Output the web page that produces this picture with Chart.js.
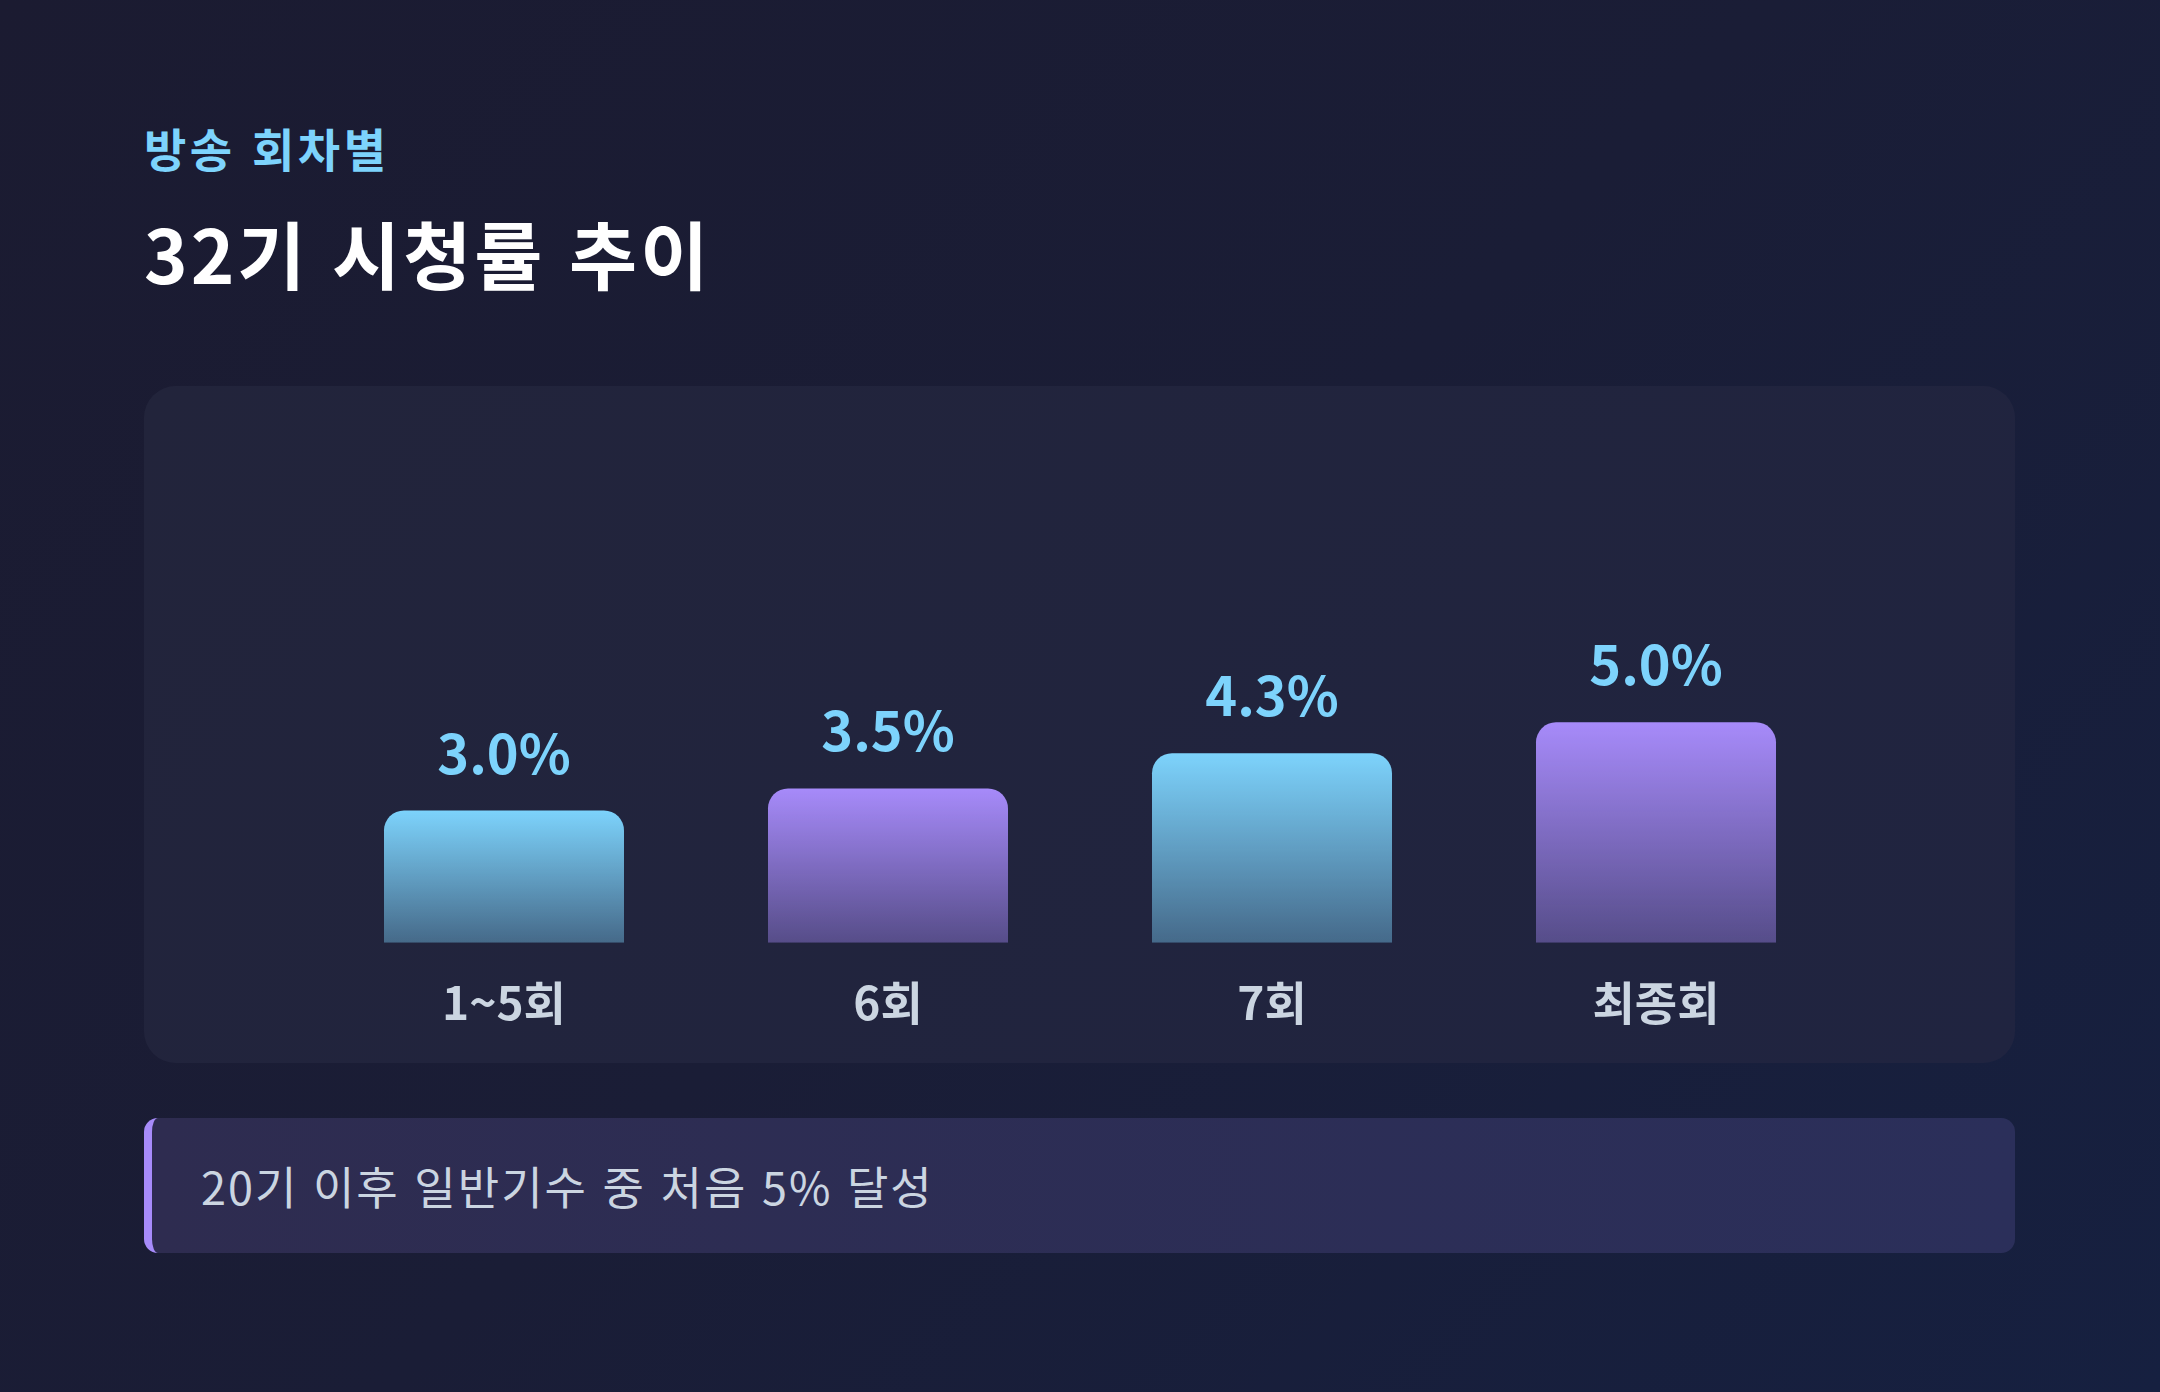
<!DOCTYPE html>
<html lang="ko">
<head>
<meta charset="utf-8">
<script src="https://cdn.jsdelivr.net/npm/chart.js@4.4.1/dist/chart.umd.min.js"></script>
<style>
  html, body {
    margin: 0;
    padding: 0;
  }
  body {
    width: 2160px;
    height: 1392px;
    position: relative;
    overflow: hidden;
    background: linear-gradient(135deg, #1b1b31 0%, #1a1d36 50%, #162040 100%);
    font-family: "Noto Sans CJK KR", "Noto Sans", sans-serif;
  }
  .sub {
    position: absolute;
    left: 144px;
    top: 124px;
    font-size: 46px;
    line-height: 1;
    font-weight: 700;
    letter-spacing: 3.5px;
    color: #7dd3fc;
  }
  h1 {
    position: absolute;
    left: 144px;
    top: 215px;
    margin: 0;
    font-size: 74px;
    line-height: 1;
    font-weight: 700;
    letter-spacing: 3px;
    color: #ffffff;
  }
  .panel {
    position: absolute;
    left: 144px;
    top: 386px;
    width: 1871px;
    height: 677px;
    border-radius: 32px;
    background: linear-gradient(135deg, #22243b 0%, #202440 100%);
  }
  .note {
    position: absolute;
    left: 144px;
    top: 1118px;
    width: 1863px;
    height: 135px;
    border-left: 8px solid #a78bfa;
    border-radius: 14px;
    background: linear-gradient(90deg, #2e2c50 0%, #2b2f5a 100%);
    display: flex;
    align-items: center;
    box-sizing: content-box;
  }
  .note span {
    margin-left: 49px;
    font-size: 45px;
    letter-spacing: 2px;
    color: #cbd5e1;
  }
</style>
</head>
<body>
  <div class="sub">방송 회차별</div>
  <h1>32기 시청률 추이</h1>
  <div class="panel"><canvas id="rating" width="1871" height="677"></canvas></div>
  <div class="note"><span>20기 이후 일반기수 중 처음 5% 달성</span></div>

<script>
const episodes = ['1~5회', '6회', '7회', '최종회'];
const ratings = [3.0, 3.5, 4.3, 5.0];
const barTops = ['#7dd3fc', '#a78bfa', '#7dd3fc', '#a78bfa'];
const barBottoms = ['rgba(125, 211, 252, 0.4)', 'rgba(167, 139, 250, 0.4)', 'rgba(125, 211, 252, 0.4)', 'rgba(167, 139, 250, 0.4)'];

// value labels above each bar
const valueLabels = {
  id: 'valueLabels',
  afterDatasetsDraw(chart) {
    const ctx = chart.ctx;
    const meta = chart.getDatasetMeta(0);
    ctx.save();
    ctx.font = '700 54px "Noto Sans CJK KR", "Noto Sans", sans-serif';
    ctx.fillStyle = '#7dd3fc';
    ctx.textAlign = 'center';
    ctx.textBaseline = 'alphabetic';
    meta.data.forEach((bar, i) => {
      ctx.fillText(ratings[i].toFixed(1) + '%', bar.x, bar.y - 37);
    });
    ctx.restore();
  }
};

const ctx = document.getElementById('rating').getContext('2d');
new Chart(ctx, {
  type: 'bar',
  data: {
    labels: episodes,
    datasets: [{
      data: ratings,
      backgroundColor: (c) => {
        const chart = c.chart;
        const y = chart.scales.y;
        if (!chart.chartArea || !y) return barTops[c.dataIndex];
        const top = y.getPixelForValue(ratings[c.dataIndex]);
        const base = y.getPixelForValue(0);
        const g = chart.ctx.createLinearGradient(0, top, 0, base);
        g.addColorStop(0, barTops[c.dataIndex]);
        g.addColorStop(1, barBottoms[c.dataIndex]);
        return g;
      },
      borderRadius: { topLeft: 20, topRight: 20, bottomLeft: 0, bottomRight: 0 },
      borderSkipped: false,
      barPercentage: 0.625,
      categoryPercentage: 1
    }]
  },
  options: {
    responsive: false,
    animation: false,
    layout: {
      padding: { top: 204, left: 168, right: 167, bottom: 1 }
    },
    plugins: {
      legend: { display: false },
      tooltip: { enabled: false }
    },
    scales: {
      x: {
        grid: { display: false, drawTicks: false },
        border: { display: false },
        ticks: {
          padding: 32,
          color: '#cbd5e1',
          font: { family: '"Noto Sans CJK KR", "Noto Sans", sans-serif', size: 46, weight: '700' }
        }
      },
      y: {
        display: false,
        min: 0,
        max: 8
      }
    }
  },
  plugins: [valueLabels]
});
</script>
</body>
</html>
